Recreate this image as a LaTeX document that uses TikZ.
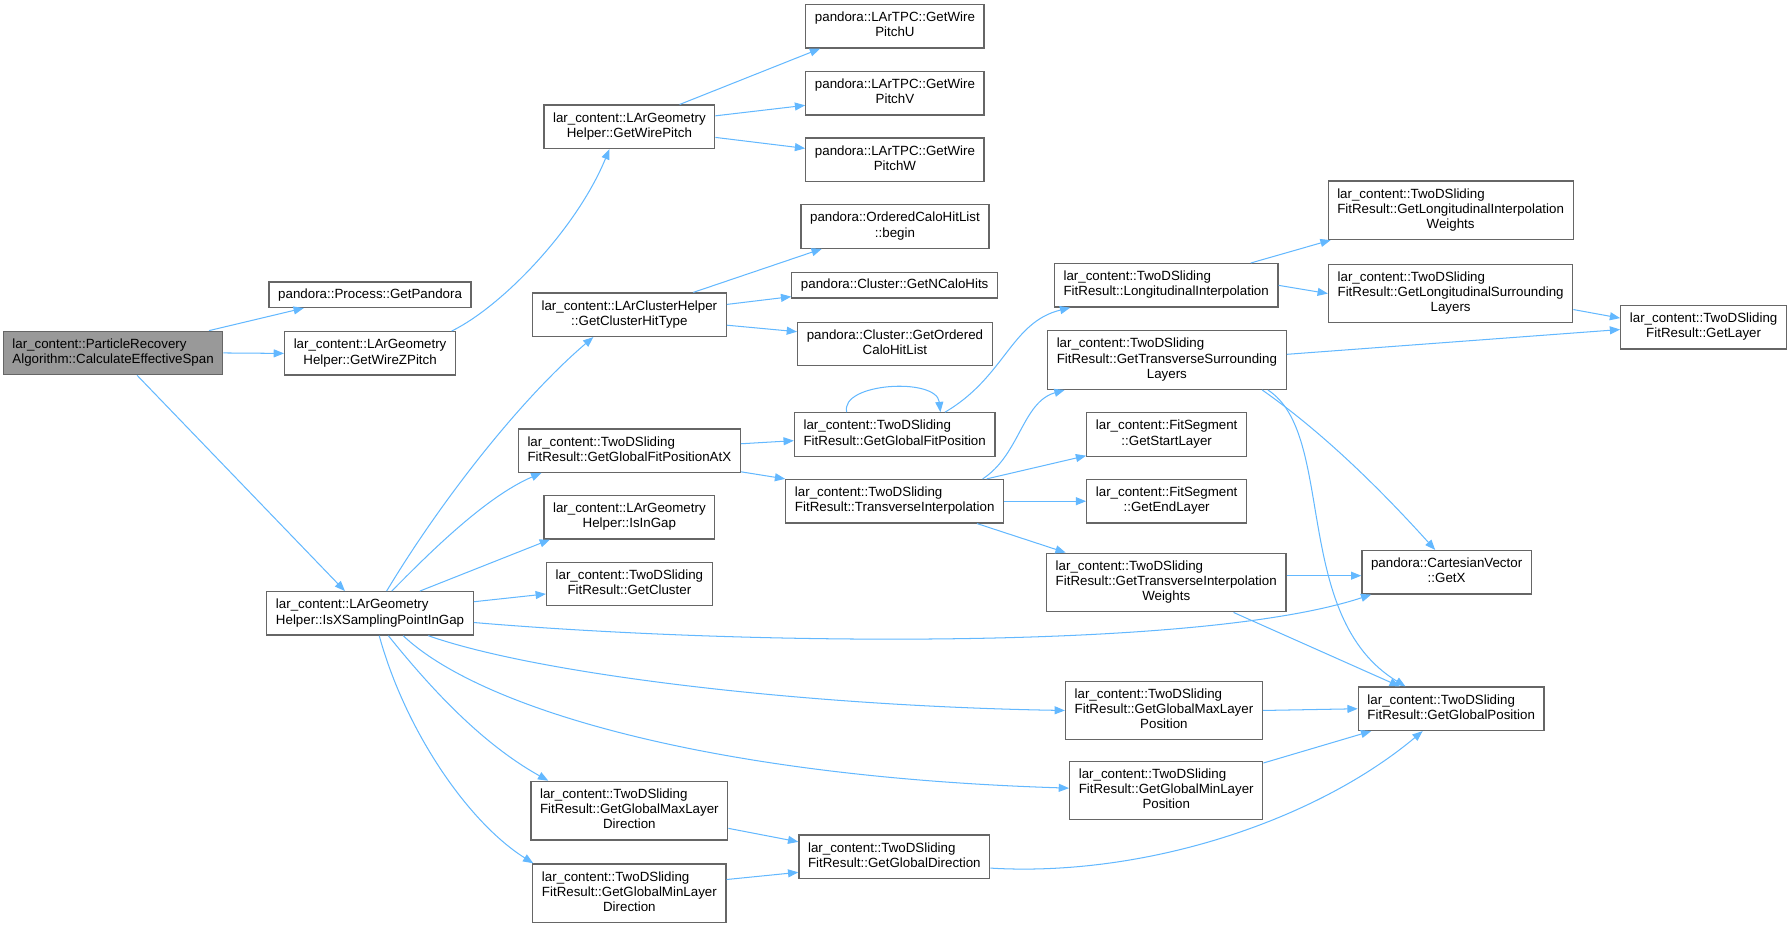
\documentclass[tikz,border=0pt]{standalone}
\usepackage{fontspec}
\setmainfont{Liberation Sans}
\usetikzlibrary{arrows.meta}
\definecolor{edgeblue}{HTML}{63B8FF}
\definecolor{boxgray}{HTML}{666666}
\definecolor{rootgray}{HTML}{999999}
% first lines flush left, last line centred
\newcommand{\twoline}[2]{\begin{tabular}{@{}c@{}}\multicolumn{1}{@{}l@{}}{#1}\\#2\end{tabular}}
\newcommand{\threeline}[3]{\begin{tabular}{@{}c@{}}\multicolumn{1}{@{}l@{}}{#1}\\\multicolumn{1}{@{}l@{}}{#2}\\#3\end{tabular}}
\tikzset{
    fn/.style = {draw=boxgray, fill=white, line width=1.1pt, inner xsep=8pt, inner ysep=5.7pt, font=\fontsize{11.67}{13.3}\selectfont},
    root/.style = {fn, fill=rootgray},
    call/.style = {draw=edgeblue, line width=0.9pt, -{Triangle[length=9pt, width=7pt]}}
}

\begin{document}
\begin{tikzpicture}[x=1pt, y=-1pt]
        \useasboundingbox (0,0) rectangle (1568,812);

        % caller and first level
        \node[root] (particle) at (99,309) {\twoline{lar\_content::ParticleRecovery}{Algorithm::CalculateEffectiveSpan}};
        \node[fn] (pandora) at (324,258) {pandora::Process::GetPandora};
        \node[fn] (wirez) at (324,309.4) {\twoline{lar\_content::LArGeometry}{Helper::GetWireZPitch}};
        \node[fn] (isx) at (324,537) {\twoline{lar\_content::LArGeometry}{Helper::IsXSamplingPointInGap}};

        % second level
        \node[fn] (wirepitch) at (551,111) {\twoline{lar\_content::LArGeometry}{Helper::GetWirePitch}};
        \node[fn] (clusterhit) at (551,275.5) {\twoline{lar\_content::LArClusterHelper}{::GetClusterHitType}};
        \node[fn] (fitposx) at (551,394.5) {\twoline{lar\_content::TwoDSliding}{FitResult::GetGlobalFitPositionAtX}};
        \node[fn] (isingap) at (551,452.8) {\twoline{lar\_content::LArGeometry}{Helper::IsInGap}};
        \node[fn] (getcluster) at (551,511.3) {\twoline{lar\_content::TwoDSliding}{FitResult::GetCluster}};
        \node[fn] (maxdir) at (551,709.7) {\threeline{lar\_content::TwoDSliding}{FitResult::GetGlobalMaxLayer}{Direction}};
        \node[fn] (mindir) at (551,782) {\threeline{lar\_content::TwoDSliding}{FitResult::GetGlobalMinLayer}{Direction}};

        % third level
        \node[fn] (pitchu) at (783.5,23) {\twoline{pandora::LArTPC::GetWire}{PitchU}};
        \node[fn] (pitchv) at (783.5,81.6) {\twoline{pandora::LArTPC::GetWire}{PitchV}};
        \node[fn] (pitchw) at (783.5,139.9) {\twoline{pandora::LArTPC::GetWire}{PitchW}};
        \node[fn] (begin) at (783.5,198.3) {\twoline{pandora::OrderedCaloHitList}{::begin}};
        \node[fn] (ncalo) at (783.3,249.7) {pandora::Cluster::GetNCaloHits};
        \node[fn] (ordered) at (783.5,301.2) {\twoline{pandora::Cluster::GetOrdered}{CaloHitList}};
        \node[fn] (fitpos) at (783.3,380.4) {\twoline{lar\_content::TwoDSliding}{FitResult::GetGlobalFitPosition}};
        \node[fn] (transinterp) at (783.3,438.8) {\twoline{lar\_content::TwoDSliding}{FitResult::TransverseInterpolation}};
        \node[fn] (globaldir) at (783,750) {\twoline{lar\_content::TwoDSliding}{FitResult::GetGlobalDirection}};

        % fourth level
        \node[fn] (longinterp) at (1021,249.8) {\twoline{lar\_content::TwoDSliding}{FitResult::LongitudinalInterpolation}};
        \node[fn] (transsurr) at (1021.6,315.2) {\threeline{lar\_content::TwoDSliding}{FitResult::GetTransverseSurrounding}{Layers}};
        \node[fn] (startlayer) at (1021.4,380.4) {\twoline{lar\_content::FitSegment}{::GetStartLayer}};
        \node[fn] (endlayer) at (1021.4,438.8) {\twoline{lar\_content::FitSegment}{::GetEndLayer}};
        \node[fn] (transweights) at (1021,510) {\threeline{lar\_content::TwoDSliding}{FitResult::GetTransverseInterpolation}{Weights}};
        \node[fn] (maxpos) at (1019,622) {\threeline{lar\_content::TwoDSliding}{FitResult::GetGlobalMaxLayer}{Position}};
        \node[fn] (minpos) at (1021,692) {\threeline{lar\_content::TwoDSliding}{FitResult::GetGlobalMinLayer}{Position}};

        % fifth level
        \node[fn] (longweights) at (1270,184) {\threeline{lar\_content::TwoDSliding}{FitResult::GetLongitudinalInterpolation}{Weights}};
        \node[fn] (longsurr) at (1270,257) {\threeline{lar\_content::TwoDSliding}{FitResult::GetLongitudinalSurrounding}{Layers}};
        \node[fn] (getx) at (1266.5,501) {\twoline{pandora::CartesianVector}{::GetX}};
        \node[fn] (globalpos) at (1270.5,620.5) {\twoline{lar\_content::TwoDSliding}{FitResult::GetGlobalPosition}};
        \node[fn] (getlayer) at (1491.5,286.5) {\twoline{lar\_content::TwoDSliding}{FitResult::GetLayer}};

        % calls from the root
        \draw[call] ([xshift=84pt]particle.north) -- ([xshift=31pt]pandora.south west);
        \draw[call] (particle.east) -- (wirez.west);
        \draw[call] ([xshift=21pt]particle.south) -- ([xshift=-22pt]isx.north);

        % wire pitch
        \draw[call] ([xshift=-4pt]wirez.north east) .. controls (440,268) and (505,200) .. ([xshift=-17.5pt]wirepitch.south);
        \draw[call] ([xshift=44pt]wirepitch.north) -- ([xshift=-65.5pt]pitchu.south);
        \draw[call] ([yshift=9.6pt]wirepitch.east) -- ([yshift=-10.6pt]pitchv.west);
        \draw[call] ([yshift=-9.3pt]wirepitch.east) -- ([yshift=10pt]pitchw.west);

        % calls from IsXSamplingPointInGap
        \draw[call] ([xshift=14.5pt]isx.north) .. controls (385,440) and (455,350) .. ([xshift=-31.5pt]clusterhit.south);
        \draw[call] ([xshift=19pt]isx.north) .. controls (375,485) and (425,435) .. ([xshift=-77pt]fitposx.south);
        \draw[call] ([xshift=43.6pt]isx.north) -- ([xshift=-69.5pt]isingap.south);
        \draw[call] ([yshift=10.2pt]isx.east) -- ([yshift=-8.7pt]getcluster.west);
        \draw[call] ([yshift=-8pt]isx.east) .. controls (650,565) and (1050,570) .. ([xshift=-66pt]getx.south);
        \draw[call] ([xshift=51pt]isx.south) .. controls (470,590) and (700,618) .. (maxpos.west);
        \draw[call] ([xshift=29pt]isx.south) .. controls (420,620) and (620,680) .. ([yshift=2pt]minpos.west);
        \draw[call] ([xshift=16pt]isx.south) .. controls (375,600) and (420,650) .. ([xshift=-71pt]maxdir.north);
        \draw[call] ([xshift=8pt]isx.south) .. controls (355,640) and (410,720) .. ([xshift=1pt]mindir.north west);

        % cluster hit type
        \draw[call] ([xshift=56pt]clusterhit.north) -- ([xshift=-64pt]begin.south);
        \draw[call] ([yshift=9pt]clusterhit.east) -- ([yshift=-10pt]ncalo.west);
        \draw[call] ([yshift=-9.2pt]clusterhit.east) -- ([yshift=10.8pt]ordered.west);

        % fit position at x
        \draw[call] ([yshift=6pt]fitposx.east) -- ([yshift=-5.4pt]fitpos.west);
        \draw[call] ([yshift=1pt]fitposx.south east) -- (transinterp.north west);
        \draw[call] ([xshift=-42pt]fitpos.north) .. controls (735,335) and (820,330) .. ([xshift=40pt]fitpos.north);
        \draw[call] ([xshift=44pt]fitpos.north) .. controls (880,330) and (885,282) .. ([xshift=-84pt]longinterp.south);

        % transverse interpolation
        \draw[call] ([xshift=77pt]transinterp.north) .. controls (893,398) and (895,352) .. ([xshift=-89.5pt]transsurr.south);
        \draw[call] ([xshift=80.5pt]transinterp.north) -- ([yshift=1pt]startlayer.south west);
        \draw[call] (transinterp.east) -- (endlayer.west);
        \draw[call] ([xshift=72pt]transinterp.south) -- ([xshift=-88pt]transweights.north);

        % longitudinal interpolation
        \draw[call] ([xshift=74pt]longinterp.north) -- ([xshift=-105pt]longweights.south);
        \draw[call] (longinterp.east) -- (longsurr.west);
        \draw[call] ([yshift=-14pt]longsurr.east) -- ([yshift=8pt]getlayer.west);

        % surrounding layers and weights
        \draw[call] ([yshift=5pt]transsurr.east) -- ([yshift=-2pt]getlayer.west);
        \draw[call] ([xshift=83.4pt]transsurr.south) .. controls (1160,380) and (1210,430) .. ([xshift=-10pt]getx.north);
        \draw[call] ([xshift=88.4pt]transsurr.south) .. controls (1170,380) and (1130,540) .. ([xshift=-40pt]globalpos.north);
        \draw[call] ([yshift=6pt]transweights.east) -- ([yshift=-3pt]getx.west);
        \draw[call] ([xshift=59pt]transweights.south) -- ([xshift=-45pt]globalpos.north);

        % global position
        \draw[call] (maxpos.east) -- (globalpos.west);
        \draw[call] ([yshift=24pt]minpos.east) -- ([xshift=-70pt]globalpos.south);
        \draw[call] ([yshift=-15.5pt]maxdir.east) -- ([yshift=13pt]globaldir.west);
        \draw[call] ([yshift=12pt]mindir.east) -- ([yshift=-13.7pt]globaldir.west);
        \draw[call] ([yshift=-10pt]globaldir.east) .. controls (1000,768) and (1150,720) .. ([xshift=-25pt]globalpos.south);

\end{tikzpicture}
\end{document}
